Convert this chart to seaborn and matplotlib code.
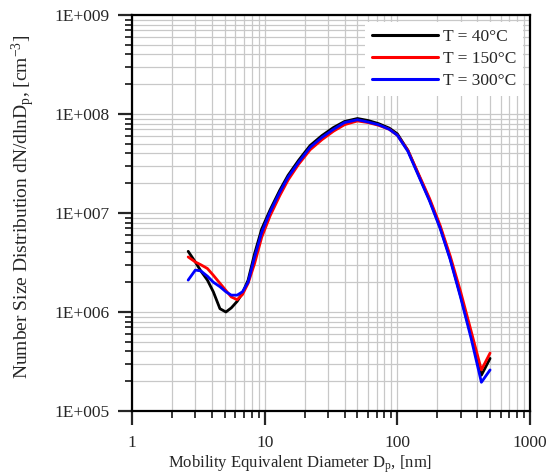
import numpy as np
import pandas as pd
import matplotlib
matplotlib.use("Agg")
import matplotlib.pyplot as plt
from matplotlib.ticker import LogLocator, FuncFormatter, NullFormatter
import seaborn as sns

# Mobility diameter bins (nm)
diameter_nm = [2.65, 3.0, 3.3, 3.7, 4.1, 4.6, 5.1, 5.6, 6.2, 6.8, 7.5, 8.4, 9.5,
               11, 13, 15, 18, 22, 27, 33, 40, 50, 60, 72, 87, 100, 120, 145,
               175, 210, 250, 300, 360, 430, 500]

# dN/dlnDp (cm^-3) for each furnace temperature
n_40c = [4.1e6, 3.2e6, 2.6e6, 2.1e6, 1.6e6, 1.08e6, 1.0e6, 1.1e6, 1.28e6, 1.55e6,
         2.1e6, 3.9e6, 6.9e6, 1.08e7, 1.7e7, 2.4e7, 3.4e7, 4.8e7, 6.05e7, 7.3e7,
         8.4e7, 9.0e7, 8.6e7, 8.0e7, 7.2e7, 6.3e7, 4.3e7, 2.4e7, 1.35e7, 7.2e6,
         3.5e6, 1.45e6, 5.8e5, 2.3e5, 3.4e5]
n_150c = [3.6e6, 3.2e6, 3.0e6, 2.75e6, 2.35e6, 1.95e6, 1.65e6, 1.42e6, 1.33e6, 1.5e6,
          1.95e6, 3.1e6, 5.7e6, 9.4e6, 1.5e7, 2.15e7, 3.1e7, 4.35e7, 5.5e7, 6.7e7,
          7.8e7, 8.5e7, 8.2e7, 7.7e7, 7.0e7, 6.1e7, 4.3e7, 2.45e7, 1.4e7, 7.5e6,
          3.7e6, 1.6e6, 6.4e5, 2.6e5, 3.85e5]
n_300c = [2.1e6, 2.65e6, 2.6e6, 2.3e6, 2.0e6, 1.8e6, 1.6e6, 1.48e6, 1.48e6, 1.6e6,
          2.0e6, 3.6e6, 6.4e6, 1.03e7, 1.62e7, 2.3e7, 3.25e7, 4.6e7, 5.8e7, 7.0e7,
          8.2e7, 8.75e7, 8.3e7, 7.8e7, 7.0e7, 6.1e7, 4.2e7, 2.35e7, 1.32e7, 7.0e6,
          3.4e6, 1.4e6, 5.4e5, 1.95e5, 2.6e5]

series_labels = ["T = 40°C", "T = 150°C", "T = 300°C"]
series_colors = ["#000000", "#ff0000", "#0000ff"]

df = pd.concat([
    pd.DataFrame({"Dp": diameter_nm, "N": vals, "T": lab})
    for vals, lab in zip([n_40c, n_150c, n_300c], series_labels)
], ignore_index=True)

sns.set_style("ticks")
plt.rcParams["font.family"] = ["Liberation Serif", "DejaVu Serif"]
plt.rcParams["mathtext.fontset"] = "custom"
plt.rcParams["mathtext.rm"] = "Liberation Serif"
plt.rcParams["mathtext.it"] = "Liberation Serif"

fig = plt.figure(figsize=(5.51, 4.74), dpi=100)
ax = fig.add_axes([0.2396, 0.1329, 0.7223, 0.8355])

sns.lineplot(data=df, x="Dp", y="N", hue="T", hue_order=series_labels,
             palette=series_colors, linewidth=2.0, ax=ax, sort=False,
             estimator=None)

ax.set_xscale("log")
ax.set_yscale("log")
ax.set_xlim(1, 1000)
ax.set_ylim(1e5, 1e9)

ax.xaxis.set_major_locator(LogLocator(base=10))
ax.xaxis.set_minor_locator(LogLocator(base=10, subs=np.arange(2, 10)))
ax.yaxis.set_major_locator(LogLocator(base=10))
ax.yaxis.set_minor_locator(LogLocator(base=10, subs=np.arange(2, 10)))
ax.xaxis.set_major_formatter(FuncFormatter(lambda v, p: f"{v:g}"))
ax.yaxis.set_major_formatter(FuncFormatter(lambda v, p: f"1E+{int(round(np.log10(v))):03d}"))
ax.xaxis.set_minor_formatter(NullFormatter())
ax.yaxis.set_minor_formatter(NullFormatter())

ax.grid(True, which="both", color="#c8c8c8", linewidth=0.9)
ax.set_axisbelow(True)

for side in ["left", "bottom", "right", "top"]:
    ax.spines[side].set_linewidth(1.6)
    ax.spines[side].set_color("black")

ax.tick_params(which="major", direction="out", length=10, width=1.6,
               labelsize=12.5, top=False, right=False)
ax.tick_params(axis="y", which="major", pad=6.5)
ax.tick_params(axis="x", which="major", pad=7)
ax.tick_params(which="minor", direction="out", length=5, width=1.3,
               top=False, right=False)

ax.set_xlabel("Mobility Equivalent Diameter D$_\\mathregular{p}$, [nm]",
              fontsize=12)
ax.set_ylabel("Number Size Distribution dN/dlnD$_\\mathregular{p}$, [cm$^\\mathregular{-3}$]",
              fontsize=14)
ax.xaxis.set_label_coords(0.422, -0.107)
ax.yaxis.set_label_coords(-0.24, 0.515)

leg = ax.legend(loc="upper right", fontsize=12.5, frameon=True, fancybox=False,
                edgecolor="none", facecolor="white", framealpha=1,
                handlelength=3.8, handletextpad=0.3, labelspacing=0.35,
                borderaxespad=0.4)
for line in leg.get_lines():
    line.set_linewidth(2.2)

fig.savefig("out.png", dpi=100)
